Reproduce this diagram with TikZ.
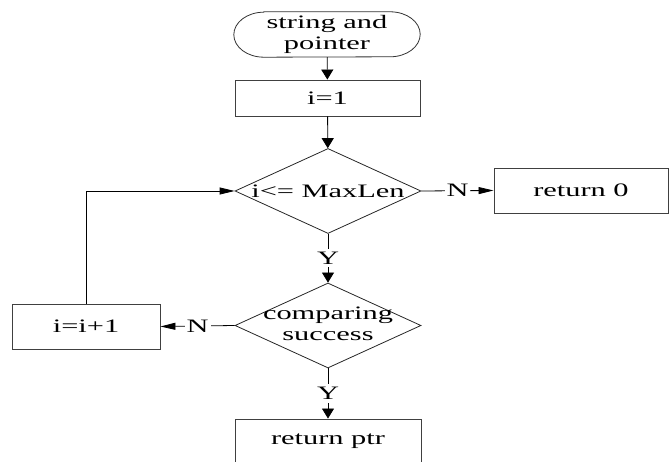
\documentclass[tikz,border=0pt]{standalone}
\usepackage{fontspec}
\setmainfont[FakeStretch=1.6]{Liberation Serif}
\usetikzlibrary{arrows.meta,shapes.geometric}
\begin{document}
\begin{tikzpicture}[x=1pt,y=1pt,
  every node/.style={font=\fontsize{19}{21}\selectfont},
  procbox/.style={draw=black!75,line width=0.9pt,rectangle,inner sep=0pt},
  decision/.style={draw=black!85,line width=0.8pt,diamond,inner sep=0pt,
    minimum width=186,minimum height=85},
  flow/.style={line width=0.8pt,-{Triangle[length=10pt,width=12pt]}},
  hflow/.style={line width=0.8pt,-{Triangle[length=15pt,width=7pt]}},
  branch/.style={fill=white,inner xsep=2pt,inner ysep=3pt}]
\useasboundingbox (0,0) rectangle (669,462);

% start terminal with elliptic ends
\node (start) at (327,427.5) [minimum width=186,minimum height=45,inner sep=0pt]
  {\begin{tabular}{@{}c@{}}string and\\pointer\end{tabular}};
\draw[black!80,line width=0.8pt]
  ([xshift=30]start.north west) -- ([xshift=-30]start.north east)
  arc[start angle=90,end angle=-90,x radius=30pt,y radius=22.5pt]
  -- ([xshift=30]start.south west)
  arc[start angle=270,end angle=90,x radius=30pt,y radius=22.5pt] -- cycle;

\node (init) at (327.5,364) [procbox,minimum width=185,minimum height=36] {i=1};
\node (d1) at (328,271) [decision] {\makebox[0pt]{i<= MaxLen}};
\node (ret0) at (581,271.5) [procbox,minimum width=174,minimum height=45] {return 0};
\node (d2) at (328,136.5) [decision] {\makebox[0pt]{\begin{tabular}{@{}c@{}}comparing\\success\end{tabular}}};
\node (inc) at (86,135.5) [procbox,minimum width=148,minimum height=45] {i=i+1};
\node (ptr) at (328,20.5) [procbox,minimum width=186,minimum height=45] {return ptr};

% connectors
\draw[flow] (start) -- (init);
\draw[flow] (init) -- (d1);
\draw[hflow] (d1.east) -- node[branch] {N} (ret0.west);
\draw[flow] (d1.south) -- node[branch] {Y} (d2.north);
\draw[hflow] (d2.west) -- node[branch] {N} (inc.east);
\draw[flow] (d2.south) -- node[branch] {Y} (ptr.north);
\draw[hflow] (inc.north) |- (d1.west);
\end{tikzpicture}
\end{document}
